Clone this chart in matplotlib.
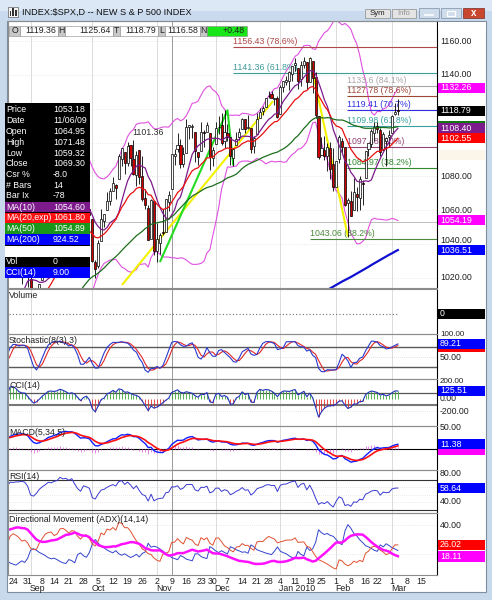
import numpy as np
import pandas as pd
import matplotlib
matplotlib.use('Agg')
import matplotlib.pyplot as plt
from matplotlib.patches import Rectangle
from matplotlib.transforms import Bbox, TransformedBbox
from matplotlib.transforms import blended_transform_factory as btf

plt.rcParams['font.family'] = ['Liberation Sans', 'DejaVu Sans']
FS = 6.3

# ---------------- DATA ----------------
# warm-up history (Jun 1 - Aug 21, 2009), used only for the indicators
warm_close = [942.87, 944.74, 931.76, 942.46, 940.09, 939.14, 942.43, 939.15, 944.89, 946.21,
              923.72, 911.97, 910.71, 918.37, 921.23, 893.04, 895.10, 900.94, 920.26, 918.90,
              927.23, 919.32,
              923.33, 896.42, 898.72, 881.03, 879.56, 882.68, 879.13, 901.05, 905.84, 932.68,
              940.74, 940.38, 951.13, 954.58, 954.07, 976.29, 979.26, 982.18, 979.62, 975.15,
              986.75, 987.48,
              1002.63, 1005.65, 1002.72, 997.08, 1010.48, 1007.10, 994.35, 1005.81, 1012.73, 1004.09,
              979.73, 989.67, 996.46, 1007.37, 1026.13]
warm_high = [947.8, 949.4, 942.5, 942.5, 951.7, 946.3, 946.3, 949.8, 956.2, 946.3,
             942.5, 928.0, 918.4, 921.9, 927.1, 918.1, 898.7, 910.9, 921.4, 922.0,
             927.9, 930.0,
             931.9, 921.2, 898.7, 898.6, 886.8, 887.9, 883.6, 901.1, 905.8, 933.0,
             943.0, 941.9, 951.6, 956.5, 959.8, 979.4, 979.8, 982.5, 982.5, 977.8,
             996.7, 993.2,
             1003.6, 1005.6, 1006.6, 1008.9, 1018.0, 1010.1, 1007.1, 1012.6, 1013.1, 1012.6,
             998.8, 991.2, 998.3, 1008.9, 1027.6]
warm_low = [923.3, 938.5, 923.9, 929.3, 934.1, 926.4, 935.7, 927.9, 939.0, 935.7,
            919.7, 911.6, 903.8, 907.9, 915.8, 893.0, 888.9, 896.0, 896.3, 913.0,
            916.2, 912.9,
            920.8, 896.4, 886.4, 879.9, 869.3, 878.5, 872.8, 875.3, 896.5, 909.9,
            927.5, 934.5, 940.9, 943.2, 947.9, 953.3, 965.9, 972.3, 969.4, 968.7,
            976.0, 982.8,
            990.2, 994.8, 994.3, 992.5, 1001.6, 1001.0, 991.2, 993.4, 1000.4, 994.6,
            978.5, 980.6, 978.5, 996.4, 1009.0]

# displayed daily bars, Aug 24 2009 - Mar 3 2010
opens = [1026.6, 1026.6, 1027.4, 1027.8, 1031.6,
         1025.2, 1019.5, 996.1, 996.1, 1003.8,
         1018.7, 1025.0, 1032.9, 1043.9,
         1040.2, 1049.0, 1053.0, 1067.9, 1066.6,
         1067.1, 1066.4, 1072.7, 1062.6, 1049.5,
         1045.4, 1063.7, 1061.0, 1054.9, 1029.7,
         1026.9, 1042.0, 1053.7, 1060.0, 1065.3,
         1071.6, 1075.0, 1078.7, 1090.4, 1094.7,
         1088.2, 1098.6, 1090.4, 1081.0, 1095.6,
         1080.4, 1067.5, 1061.5, 1043.2, 1065.4,
         1036.2, 1040.9, 1047.3, 1047.3, 1064.95,
         1072.3, 1092.2, 1096.0, 1098.3, 1087.6,
         1094.1, 1109.2, 1109.4, 1106.4, 1094.7,
         1094.9, 1105.8, 1106.5, 1105.5,
         1091.1, 1098.9, 1109.0, 1110.6, 1100.8,
         1105.5, 1103.0, 1091.1, 1098.7, 1103.1,
         1107.8, 1114.1, 1108.6, 1108.6, 1097.9,
         1105.3, 1114.5, 1118.8, 1121.1,
         1127.5, 1128.6, 1125.5, 1126.6,
         1116.6, 1133.0, 1135.7, 1136.3, 1140.5,
         1146.0, 1143.8, 1137.3, 1145.7, 1147.7,
         1136.0, 1148.0, 1138.7, 1115.5,
         1092.4, 1095.8, 1091.9, 1096.9, 1087.6,
         1073.9, 1090.1, 1100.7, 1097.3, 1064.1,
         1065.5, 1060.1, 1069.7, 1067.1, 1076.0,
         1079.1, 1096.1, 1099.0, 1105.5,
         1110.0, 1107.5, 1095.9, 1101.2, 1103.1,
         1105.4, 1117.0, 1119.36]
highs = [1035.8, 1037.8, 1032.5, 1033.3, 1039.5,
         1025.2, 1028.5, 1000.3, 1003.4, 1016.5,
         1026.1, 1036.3, 1044.1, 1048.2,
         1049.7, 1056.0, 1068.8, 1074.8, 1071.5,
         1067.3, 1073.8, 1080.15, 1066.3, 1053.5,
         1065.1, 1069.6, 1063.4, 1054.9, 1030.6,
         1042.6, 1060.6, 1058.0, 1070.7, 1073.0,
         1079.5, 1075.3, 1093.2, 1096.6, 1094.7,
         1100.2, 1098.6, 1101.36, 1095.2, 1095.8,
         1091.8, 1072.5, 1063.3, 1066.8, 1065.4,
         1052.2, 1046.4, 1061.0, 1066.7, 1071.48,
         1093.2, 1096.1, 1105.4, 1102.0, 1097.6,
         1113.7, 1110.3, 1111.1, 1106.4, 1094.7,
         1112.4, 1107.6, 1112.4, 1105.5,
         1097.2, 1112.3, 1115.6, 1117.3, 1119.1,
         1110.7, 1103.0, 1097.0, 1106.3, 1108.5,
         1114.8, 1114.1, 1116.2, 1108.6, 1103.7,
         1117.7, 1120.3, 1121.6, 1126.5,
         1130.4, 1130.4, 1126.4, 1127.6,
         1133.9, 1136.6, 1139.2, 1142.5, 1145.4,
         1149.7, 1143.8, 1148.4, 1150.4, 1147.8,
         1150.45, 1148.0, 1141.6, 1115.5,
         1103.0, 1103.7, 1099.5, 1100.2, 1096.5,
         1089.4, 1104.7, 1102.7, 1097.3, 1067.1,
         1071.2, 1079.3, 1073.7, 1080.0, 1077.8,
         1095.0, 1099.5, 1108.2, 1112.4,
         1112.3, 1108.6, 1106.4, 1103.5, 1107.2,
         1116.1, 1123.5, 1125.64]
lows = [1022.5, 1026.2, 1021.6, 1016.2, 1023.1,
        1014.6, 996.3, 992.0, 992.3, 1001.7,
        1018.7, 1023.0, 1028.0, 1038.4,
        1035.0, 1043.4, 1052.9, 1061.0, 1064.3,
        1057.5, 1066.4, 1060.4, 1045.9, 1041.2,
        1045.4, 1057.8, 1048.1, 1029.5, 1020.0,
        1025.9, 1042.0, 1050.2, 1060.0, 1063.0,
        1071.6, 1066.7, 1078.7, 1086.4, 1081.5,
        1086.1, 1086.2, 1080.8, 1074.3, 1075.5,
        1065.2, 1060.6, 1042.2, 1043.2, 1033.4,
        1029.38, 1033.9, 1045.2, 1047.3, 1059.32,
        1072.3, 1087.0, 1094.5, 1084.9, 1085.3,
        1094.1, 1102.2, 1102.7, 1088.4, 1087.0,
        1094.9, 1097.6, 1106.5, 1083.7,
        1086.3, 1098.9, 1105.3, 1098.7, 1096.5,
        1100.8, 1086.7, 1085.9, 1098.7, 1101.3,
        1107.8, 1105.4, 1107.9, 1093.9, 1093.9,
        1105.3, 1114.5, 1116.0, 1121.1,
        1126.1, 1126.2, 1121.9, 1114.8,
        1116.6, 1129.7, 1133.9, 1131.3, 1136.2,
        1142.0, 1131.8, 1133.2, 1143.8, 1131.4,
        1135.8, 1129.3, 1114.8, 1090.2,
        1092.4, 1089.9, 1083.1, 1078.5, 1071.6,
        1073.9, 1088.0, 1094.0, 1062.8, 1044.5,
        1056.5, 1060.1, 1059.3, 1060.1, 1063.0,
        1079.1, 1092.3, 1097.5, 1100.8,
        1105.4, 1092.2, 1095.5, 1086.0, 1097.6,
        1105.4, 1116.5, 1116.58]
closes = [1025.57, 1028.00, 1028.12, 1030.98, 1028.93,
          1020.62, 998.04, 994.75, 1003.24, 1016.40,
          1025.39, 1033.37, 1044.14, 1042.73,
          1049.34, 1052.63, 1068.76, 1065.49, 1068.30,
          1064.66, 1071.66, 1060.87, 1050.78, 1044.38,
          1062.98, 1060.61, 1057.08, 1029.85, 1025.21,
          1040.46, 1054.72, 1057.58, 1065.48, 1071.49,
          1076.19, 1073.19, 1092.02, 1096.56, 1087.68,
          1097.91, 1091.06, 1081.40, 1092.91, 1079.60,
          1066.95, 1063.41, 1042.63, 1066.11, 1036.19,
          1042.88, 1045.41, 1046.50, 1066.63, 1069.30,
          1093.08, 1093.01, 1098.51, 1087.24, 1093.48,
          1109.30, 1110.32, 1109.80, 1094.90, 1091.38,
          1106.24, 1105.65, 1110.63, 1091.49,
          1095.63, 1108.86, 1109.24, 1099.92, 1105.98,
          1103.25, 1091.94, 1095.95, 1102.35, 1106.41,
          1114.11, 1107.93, 1109.18, 1096.08, 1102.47,
          1114.05, 1118.02, 1120.59, 1126.48,
          1127.78, 1126.20, 1126.42, 1115.10,
          1132.99, 1136.52, 1137.14, 1141.69, 1144.98,
          1146.98, 1136.22, 1145.68, 1148.46, 1136.03,
          1150.23, 1138.04, 1116.48, 1091.76,
          1096.78, 1092.17, 1097.50, 1084.53, 1073.87,
          1089.19, 1103.32, 1097.28, 1063.11, 1066.19,
          1056.74, 1070.52, 1068.13, 1078.47, 1075.51,
          1094.87, 1099.51, 1106.75, 1109.17,
          1108.01, 1094.60, 1105.24, 1102.94, 1104.49,
          1115.71, 1118.31, 1118.79]

# 200-day MA (only visible from late Jan)
ma200_start = 108
ma200_vals = [1013.9, 1014.9, 1015.9, 1016.9, 1017.9, 1018.8, 1019.7, 1020.6, 1021.6, 1022.6,
              1023.6, 1024.6, 1025.6, 1026.6, 1027.7, 1028.7, 1029.7, 1030.7, 1031.7, 1032.7,
              1033.7, 1034.6, 1035.6, 1036.51]

holidays = ['2009-07-03', '2009-09-07', '2009-11-26', '2009-12-25', '2010-01-01', '2010-01-18', '2010-02-15']

# fibonacci levels: (value, label, start bar, colour)
fib_levels = [(1156.43, '1156.43 (78.6%)', 74.8, '#b04848'),
              (1141.36, '1141.36 (61.8%)', 74.8, '#3f9a9a'),
              (1133.6, '1133.6 (84.1%)', 113.6, '#a8a8a8'),
              (1127.78, '1127.78 (78.6%)', 113.6, '#a04838'),
              (1119.41, '1119.41 (70.7%)', 113.6, '#3030e0'),
              (1109.98, '1109.98 (61.8%)', 113.6, '#38a0a0'),
              (1097.48, '1097.48 (50%)', 113.6, '#904478'),
              (1084.97, '1084.97 (38.2%)', 113.6, '#2e8a2e'),
              (1043.06, '1043.06 (38.2%)', 101.0, '#4a8a3a')]
# hand drawn trendlines (bar, price)
yellow1 = [(37.1, 1015.9), (88.5, 1124.5)]
yellow2 = [(101.0, 1150.0), (114.0, 1044.5)]
green1 = [(50.0, 1029.38), (73.0, 1119.1), (75.0, 1086.5)]

toolbar = [('O', '1119.36'), ('H', '1125.64'), ('T', '1118.79'), ('L', '1116.58'), ('N', '+0.48')]
info_labels = ['Price', 'Date', 'Open', 'High', 'Low', 'Close', 'Csr %', '# Bars', 'Bar Ix']
info_values = ['1053.18', '11/06/09', '1064.95', '1071.48', '1059.32', '1069.30', '-8.0', '14', '-78']
ma_labels = ['MA(10)', 'MA(20,exp)', 'MA(50)', 'MA(200)']
ma_values = ['1054.60', '1061.80', '1054.89', '924.52']
cursor_bar = 54
cursor_price = 1053.18

last_vals = dict(bbu=1132.26, price=1118.79, ma10=1108.40, ema20=1102.55, bbl=1054.19, ma200=1036.51,
                 stk=89.21, cci=125.51, macd=11.38, rsi=58.64, pdi=26.02, adx=18.11)

# ---------------- INDICATORS ----------------
NW = len(warm_close)
Cl = np.array(warm_close + closes)
Hi = np.array(warm_high + highs)
Lo = np.array(warm_low + lows)
Op = np.array(opens)
dates = pd.bdate_range('2009-06-01', '2010-03-03')
dates = dates[~dates.isin(pd.to_datetime(holidays))]
assert len(dates) == len(Cl)
bars = np.arange(len(Cl)) - NW

S = lambda a: pd.Series(a)
sma = lambda a, p: S(a).rolling(p).mean().values
ema = lambda a, p: S(a).ewm(span=p, adjust=False).mean().values
wil = lambda a, p: S(a).ewm(alpha=1.0 / p, adjust=False).mean().values

ma10 = sma(Cl, 10)
ema20 = ema(Cl, 20)
ma50 = sma(Cl, 50)
bb_mid = sma(Cl, 20)
bb_sd = S(Cl).rolling(20).std(ddof=0).values
bbu, bbl = bb_mid + 2 * bb_sd, bb_mid - 2 * bb_sd

ll8 = S(Lo).rolling(8).min().values
hh8 = S(Hi).rolling(8).max().values
raw = 100 * (Cl - ll8) / (hh8 - ll8)
stk = sma(raw, 3)
std_ = sma(stk, 3)

tp = (Hi + Lo + Cl) / 3
tpm = sma(tp, 14)
md = S(tp).rolling(14).apply(lambda w: np.mean(np.abs(w - w.mean())), raw=True).values
cci = (tp - tpm) / (0.015 * md)

macd = ema(Cl, 5) - ema(Cl, 34)
sig = ema(macd, 5)
hist = macd - sig

d = np.diff(Cl, prepend=Cl[0])
rsi = 100 - 100 / (1 + wil(np.maximum(d, 0), 14) / wil(np.maximum(-d, 0), 14))

up = np.r_[0, Hi[1:] - Hi[:-1]]
dn = np.r_[0, Lo[:-1] - Lo[1:]]
pdm = np.where((up > dn) & (up > 0), up, 0.0)
mdm = np.where((dn > up) & (dn > 0), dn, 0.0)
pc = np.r_[Cl[0], Cl[:-1]]
tr = np.maximum(Hi - Lo, np.maximum(abs(Hi - pc), abs(Lo - pc)))
atr = wil(tr, 14)
pdi = 100 * wil(pdm, 14) / atr
mdi = 100 * wil(mdm, 14) / atr
dx = 100 * abs(pdi - mdi) / (pdi + mdi)
adx = wil(dx, 14)

# ---------------- FIGURE ----------------
W, H = 492, 600
fig = plt.figure(figsize=(W / 100, H / 100), dpi=100)
fig.patch.set_facecolor('#c9d9ec')

bg = fig.add_axes([0, 0, 1, 1]); bg.set_xlim(0, W); bg.set_ylim(H, 0); bg.axis('off'); bg.set_zorder(0)
ov = fig.add_axes([0, 0, 1, 1]); ov.set_xlim(0, W); ov.set_ylim(H, 0); ov.axis('off'); ov.set_zorder(10)
ov.patch.set_alpha(0)


def rect(ax, x0, y0, x1, y1, fc, ec='none', lw=0.6, z=1):
    ax.add_patch(Rectangle((x0, y0), x1 - x0, y1 - y0, facecolor=fc, edgecolor=ec, linewidth=lw, zorder=z))


# window chrome
rect(bg, 0, 0, W, 11, '#dce8f6')
rect(bg, 0, 11, W, 21, '#c9daee')
rect(bg, 7, 21, 486, 592, 'white', ec='#7f8fa0', lw=0.8)
rect(ov, 8, 7, 18, 17, '#f4f4f4', ec='#606060', lw=0.5, z=5)
for k, hh in enumerate([5, 8, 6]):
    rect(ov, 9.5 + k * 2.8, 16 - hh, 11 + k * 2.8, 16, '#303030', z=6)
ov.text(22, 12.5, 'INDEX:$SPX,D -- NEW S & P 500 INDEX', fontsize=6.6, va='center', ha='left', color='#101010')
for x0, x1, t, c in [(365, 390, 'Sym', '#202020'), (392, 416, 'Info', '#909090')]:
    rect(ov, x0, 9, x1, 18, '#e4e4e4', ec='#8a8a8a', lw=0.5, z=5)
    ov.text((x0 + x1) / 2, 13.5, t, fontsize=5.6, ha='center', va='center', color=c, zorder=6)
rect(ov, 419, 8, 439, 18, '#cfdcec', ec='#7d8ea3', lw=0.5, z=5)
ov.plot([425, 433], [14.5, 14.5], color='white', lw=1.2, zorder=6)
rect(ov, 441, 8, 461, 18, '#cfdcec', ec='#7d8ea3', lw=0.5, z=5)
rect(ov, 447, 11, 455, 15.5, 'none', ec='white', lw=0.9, z=6)
rect(ov, 463, 8, 484, 18, '#c8452e', ec='#7a2a20', lw=0.5, z=5)
ov.text(473.5, 13, 'x', fontsize=7, ha='center', va='center', color='white', fontweight='bold', zorder=6)

# panel geometry
XL, XR = 8, 437
PX_PER_BAR = 379 / 129.0
XMIN = -(13 - XL) / PX_PER_BAR
XMAX = XMIN + (XR - XL) / PX_PER_BAR
PANELS = {
    'main': dict(top=21, bot=288, v0=1160, p0=41, s=237 / 140),
    'vol': dict(top=289, bot=334, v0=0, p0=314, s=1.0),
    'stoch': dict(top=334, bot=379, v0=80, p0=347, s=1 / 3),
    'cci': dict(top=379, bot=426, v0=0, p0=398.7, s=0.0615),
    'macd': dict(top=426, bot=470, v0=0, p0=449, s=0.42),
    'rsi': dict(top=470, bot=513, v0=70, p0=479.5, s=0.75),
    'adx': dict(top=513, bot=575, v0=40, p0=525, s=1.43),
}


def ypx(name, v):
    p = PANELS[name]
    return p['p0'] - (v - p['v0']) * p['s']


axes = {}
for name, p in PANELS.items():
    a = fig.add_axes([XL / W, 1 - p['bot'] / H, (XR - XL) / W, (p['bot'] - p['top']) / H])
    a.set_xlim(XMIN, XMAX)
    a.set_ylim(p['v0'] - (p['bot'] - p['p0']) / p['s'], p['v0'] + (p['p0'] - p['top']) / p['s'])
    a.set_xticks([]); a.set_yticks([])
    a.set_facecolor('none')
    for sp in a.spines.values():
        sp.set_color('#8c8c8c'); sp.set_linewidth(0.8)
    a.spines['right'].set_color('black')
    a.set_zorder(2)
    axes[name] = a

disp = bars >= 0
xb = bars[disp]
month_starts = [i for i in range(1, len(xb)) if dates[NW + i].month != dates[NW + i - 1].month]

for name, a in axes.items():
    for m in month_starts:
        a.axvline(xb[m], color='#d6d6d6', lw=0.6, zorder=0.5)
    a.axvline(cursor_bar, color='#9a9a9a', lw=0.7, zorder=0.6)

# ---- main price panel ----
am = axes['main']
for v in range(1020, 1161, 20):
    am.axhline(v, color='#d8d8d8', lw=0.5, ls=(0, (1, 2)), zorder=0.5)
am.axhline(cursor_price, color='#b4b4b4', lw=0.6, zorder=0.6)
am.plot(bars, bbu, color='#e050e0', lw=0.8, zorder=2)
am.plot(bars, bbl, color='#e050e0', lw=0.8, zorder=2)
for v, lab, start, col in fib_levels:
    am.hlines(v, start, XMAX, color=col, lw=0.8, zorder=2)
    am.text(start + 0.2, v + 0.6, lab, color=col, fontsize=FS, ha='left', va='bottom', zorder=2.5)
am.text(40.5, 1103.3, '1101.36', fontsize=FS, color='#303030', ha='left', va='bottom', zorder=2.5)
# high label of Sep 23, mostly hidden behind the data window
hid = am.text(17.7, 1085.5, '1080.15', fontsize=FS, color='#303030', ha='left', va='bottom', zorder=2.5)
hid.set_clip_box(TransformedBbox(Bbox([[90.5, 300], [200, 600 - 100]]), ov.transData))
hid.set_clip_on(True)
for pts, col in [(yellow1, '#f2f200'), (yellow2, '#f2f200'), (green1, '#22dd22')]:
    am.plot([q[0] for q in pts], [q[1] for q in pts], color=col, lw=1.5, zorder=2.7, solid_capstyle='butt')

C = Cl[disp]
upc = C >= Op
am.vlines(xb, Lo[disp], Hi[disp], color='black', lw=0.6, zorder=3)
body_lo = np.minimum(Op, C)
body_h = np.maximum(np.abs(C - Op), 0.3)
am.bar(xb, body_h, bottom=body_lo, width=0.72, color=np.where(upc, 'white', '#cc0000'),
       edgecolor='black', linewidth=0.5, zorder=3.2)
am.plot(bars, ma10, color='#7d1a8c', lw=0.9, zorder=4)
am.plot(bars, ema20, color='#e81010', lw=0.9, zorder=4)
am.plot(bars, ma50, color='#1d6e1d', lw=0.9, zorder=4)
am.plot(np.arange(ma200_start, ma200_start + len(ma200_vals)), ma200_vals, color='#1010d0', lw=1.6, zorder=4)

# ---- volume ----
av = axes['vol']
av.hlines(0, XMIN + 0.5, xb[-1], color='#707070', lw=0.8, ls=(0, (1, 2)))

# ---- stochastic ----
ast = axes['stoch']
ast.axhline(50, color='#c8c8c8', lw=0.5, ls=(0, (1, 2)))
for v in (80, 20):
    ast.axhline(v, color='#5a5a5a', lw=1.0)
ast.plot(bars, std_, color='#e02828', lw=0.8)
ast.plot(bars, stk, color='#2a3ad0', lw=0.8)

# ---- CCI ----
ac = axes['cci']
ac.axhline(100, color='#555555', lw=0.9)
ac.axhline(-100, color='#777777', lw=1.5)
ac.axhline(-200, color='#d0d0d0', lw=0.5, ls=(0, (1, 2)))
ac.vlines(bars, 0, cci, colors=np.where(cci >= 0, '#3aa53a', '#e03030'), lw=0.6)
ac.plot(bars, cci, color='#2233bb', lw=0.8)

# ---- MACD ----
ama = axes['macd']
ama.axhline(0, color='black', lw=0.8)
ama.vlines(bars, 0, hist, color='#e070e0', lw=0.6)
ama.plot(bars, macd, color='#1020ff', lw=1.0)
ama.plot(bars, sig, color='#ff1010', lw=1.2)

# ---- RSI ----
ar = axes['rsi']
ar.axhline(70, color='#333333', lw=0.8)
ar.axhline(30, color='#333333', lw=0.8)
for v in (40, 50, 60):
    ar.axhline(v, color='#d4d4d4', lw=0.5, ls=(0, (1, 2)))
ar.plot(bars, rsi, color='#3a3ad0', lw=0.7)

# ---- ADX ----
aa = axes['adx']
for v in (40, 20):
    aa.axhline(v, color='#d4d4d4', lw=0.5, ls=(0, (1, 2)))
aa.plot(bars, mdi, color='#3344cc', lw=0.7)
aa.plot(bars, pdi, color='#e05030', lw=0.7)
aa.plot(bars, adx, color='#ff10ff', lw=1.8)

# panel titles
titles = {'vol': 'Volume', 'stoch': 'Stochastic(8(3),3)', 'cci': 'CCI(14)', 'macd': 'MACD(5,34,5)',
          'rsi': 'RSI(14)', 'adx': 'Directional Movement (ADX)(14,14)'}
for name, t in titles.items():
    ov.text(9, PANELS[name]['top'] + 6.5, t, fontsize=FS, ha='left', va='center', color='#202020', zorder=3)


# ---- right axis labels & value boxes ----
def axlabel(panel, v, txt, ypos=None, fs=FS):
    y = ypx(panel, v) if ypos is None else ypos
    ov.text(440, y, txt, fontsize=fs, ha='left', va='center', color='#202020', zorder=2)


def vbox(panel, v, fc, txt='', tc='white'):
    y = ypx(panel, v)
    rect(ov, 437.6, y - 5.2, 484.5, y + 5.2, fc, z=3)
    if txt:
        ov.text(440, y, txt, fontsize=FS, ha='left', va='center', color=tc, zorder=4)


for v in (1160, 1140, 1080, 1060, 1020):
    axlabel('main', v, f'{v:.2f}')
axlabel('main', 1040, '1040.00', ypos=ypx('main', last_vals['ma200']) - 9.6)
vbox('main', last_vals['bbu'], '#ff00ff', f"{last_vals['bbu']:.2f}")
vbox('main', last_vals['price'], 'black', f"{last_vals['price']:.2f}")
vbox('main', ma50[-1], '#117711')
vbox('main', last_vals['ma10'], '#7d1a8c', f"{last_vals['ma10']:.2f}")
vbox('main', last_vals['ema20'], '#ff0000', f"{last_vals['ema20']:.2f}")
vbox('main', bb_mid[-1], '#fcf6ea')
vbox('main', last_vals['bbl'], '#ff00ff', f"{last_vals['bbl']:.2f}")
vbox('main', last_vals['ma200'], '#0000ff', f"{last_vals['ma200']:.2f}")

vbox('vol', 0, 'black', '0')
axlabel('stoch', 100, '100.00', ypos=ypx('stoch', last_vals['stk']) - 9.3, fs=5.8)
axlabel('stoch', 50, '50.00')
vbox('stoch', std_[-1] - 4, '#ff0000')
vbox('stoch', last_vals['stk'], '#0000ff', f"{last_vals['stk']:.2f}")
axlabel('cci', 200, '200.00', ypos=ypx('cci', last_vals['cci']) - 9.3, fs=5.8)
axlabel('cci', 0, '0.00'); axlabel('cci', -200, '-200.00')
vbox('cci', last_vals['cci'], '#0000ff', f"{last_vals['cci']:.2f}")
axlabel('macd', 50, '50.00')
vbox('macd', -1.0, '#ff00ff')
vbox('macd', last_vals['macd'], '#0000ff', f"{last_vals['macd']:.2f}")
axlabel('rsi', 80, '80.00', ypos=474)
axlabel('rsi', 40, '40.00')
vbox('rsi', last_vals['rsi'], '#0000ff', f"{last_vals['rsi']:.2f}")
axlabel('adx', 40, '40.00')
vbox('adx', last_vals['pdi'], '#ff0000', f"{last_vals['pdi']:.2f}")
vbox('adx', last_vals['adx'], '#ff00ff', f"{last_vals['adx']:.2f}")
rect(ov, 437.6, 21.5, 485.5, 30, 'white', z=1.5)

# ---- x axis labels (date) ----
fut = pd.bdate_range('2010-03-04', '2010-03-19')
all_dates = list(dates[NW:]) + list(fut)
tx = btf(aa.transData, ov.transData)
prev_week = None
for i, dt in enumerate(all_dates):
    wk = dt.isocalendar()[:2]
    if wk != prev_week:
        ov.text(i, 581, str(dt.day), transform=tx, fontsize=FS, ha='center', va='center', color='#202020')
        prev_week = wk
for m in month_starts:
    dt = all_dates[m]
    lab = dt.strftime('%b') + (' 2010' if dt.month == 1 else '')
    ov.text(xb[m] - 0.4, 588.5, lab, transform=tx, fontsize=FS, ha='left', va='center', color='#202020')

# ---- toolbar ----
x = 9
widths = [(11, 38), (7, 48), (7, 38), (7, 35), (7, 40)]
for (lab, val), (wl, wv) in zip(toolbar, widths):
    rect(ov, x, 26, x + wl, 35.5, '#c8c8c8', ec='#8a8a8a', lw=0.4, z=5)
    ov.text(x + wl / 2, 30.8, lab, fontsize=FS, ha='center', va='center', color='#202020', zorder=6)
    x += wl
    fc = '#19e619' if lab == 'N' else 'white'
    rect(ov, x, 26, x + wv, 35.5, fc, ec='#8a8a8a', lw=0.4, z=5)
    ov.text(x + wv - 2, 30.8, val, fontsize=FS, ha='right', va='center', color='#202020', zorder=6)
    x += wv

# ---- data window (info box) ----
rect(ov, 5, 103, 90, 246, 'black', z=5)
for k, (l, v) in enumerate(zip(info_labels, info_values)):
    y = 110 + 10.75 * k
    ov.text(6, y, l, fontsize=FS, color='white', ha='left', va='center', zorder=6)
    ov.text(53, y, v, fontsize=FS, color='white', ha='left', va='center', zorder=6)
for k, (l, v, c) in enumerate(zip(ma_labels, ma_values, ['#7d1a8c', '#ff1010', '#1a961a', '#0000ff'])):
    y = 207 + 10.9 * k
    rect(ov, 5, y - 5.4, 90, y + 5.4, c, z=5.5)
    ov.text(6, y, l, fontsize=FS, color='white', ha='left', va='center', zorder=6)
    ov.text(53, y, v, fontsize=FS, color='white', ha='left', va='center', zorder=6)
rect(ov, 5, 246, 90, 256.5, 'white', z=5)
rect(ov, 5, 256.5, 90, 267, 'black', z=5)
ov.text(6, 262, 'Vol', fontsize=FS, color='white', ha='left', va='center', zorder=6)
ov.text(53, 262, '0', fontsize=FS, color='white', ha='left', va='center', zorder=6)
rect(ov, 5, 267, 90, 277.5, '#0000ff', z=5)
ov.text(6, 272.3, 'CCI(14)', fontsize=FS, color='white', ha='left', va='center', zorder=6)
ov.text(53, 272.3, '9.00', fontsize=FS, color='white', ha='left', va='center', zorder=6)

fig.savefig('out.png', dpi=100, facecolor=fig.get_facecolor())
